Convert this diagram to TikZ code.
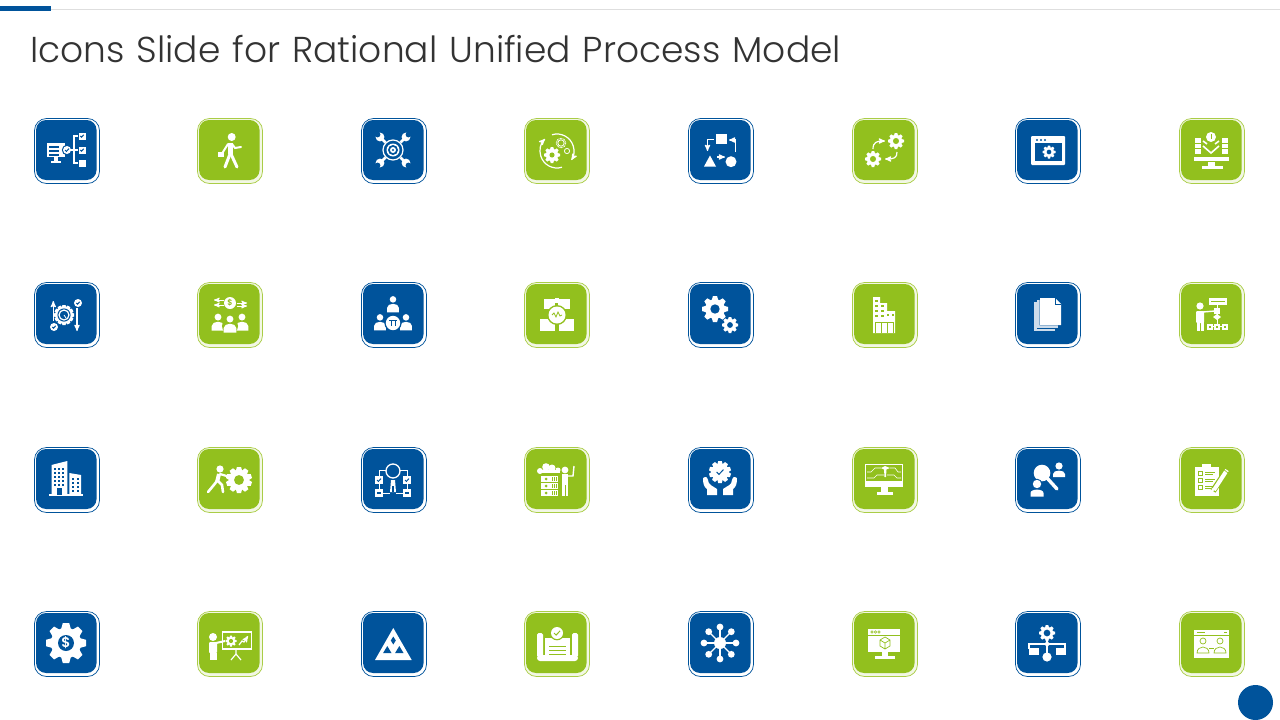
\documentclass[tikz,border=0pt]{standalone}
\usepackage{fontspec}
\setmainfont{Poppins}[UprightFont=* Light,BoldFont=* SemiBold,WordSpace=1.22]
\usepackage{tikz}
\usetikzlibrary{arrows}
\definecolor{rupblue}{RGB}{0,83,155}
\definecolor{rupgreen}{RGB}{146,192,30}
\definecolor{rupedge}{RGB}{170,205,70}
\definecolor{rupink}{RGB}{51,51,51}
\definecolor{ruprule}{RGB}{222,222,222}
\definecolor{rupleaf}{RGB}{205,220,235}
\colorlet{tilecol}{rupblue}
\tikzset{
  tile/.style={rounded corners=12pt,minimum size=65pt,inner sep=0pt,line width=.7pt},
  core/.style={rounded corners=10pt,minimum width=60.5pt,minimum height=60pt,inner sep=0pt,fill=#1},
  iconfill/.style={fill=white,draw=none},
  iconline/.style={draw=white,line width=1.2pt},
  iconthick/.style={draw=white,line width=3pt,line cap=round},
  iconknock/.style={draw=tilecol,line width=.8pt}
}
\newcommand{\blueicon}[2]{\begin{scope}[shift={(#1)}]\colorlet{tilecol}{rupblue}#2\end{scope}}
\newcommand{\greenicon}[2]{\begin{scope}[shift={(#1)}]\colorlet{tilecol}{rupgreen}#2\end{scope}}
\newcommand{\rupgear}[4]{\begin{scope}[shift={(#1)},scale=#2]
        \foreach \ang in {1,...,#4} {\fill[white,rotate=\ang*360/#4] (-.27,.6) -- (-.16,1) -- (.16,1) -- (.27,.6) -- cycle;}
        \fill[white] (0,0) circle (.76);
        \fill[tilecol] (0,0) circle (#3);
\end{scope}}
\newcommand{\ruppers}[2]{\begin{scope}[shift={(#1)},scale=#2]
        \fill[white] (0,-1.05) circle (.52);
        \fill[white] (-.95,1) -- (-.95,.3) .. controls (-.95,-.55) and (.95,-.55) .. (.95,.3) -- (.95,1) -- cycle;
\end{scope}}
\newcommand{\ruptick}[2]{\begin{scope}[shift={(#1)},scale=#2]
        \draw[tilecol,line width=1pt] (-1,0) -- (-.3,.7) -- (1,-.7);
\end{scope}}
\newcommand{\rupbox}[2]{\fill[white] ([shift={(-#2,-#2)}]#1) rectangle ([shift={(#2,#2)}]#1);}
\begin{document}
\begin{tikzpicture}[x=1pt,y=-1pt,>=stealth']
        \useasboundingbox (0,0) rectangle (1280,720);
        \fill[white] (0,0) rectangle (1280,720);
        \coordinate (ruleL) at (0,9.5);
        \coordinate (ruleR) at (1280,9.5);
        \draw[ruprule,line width=1pt] (ruleL) -- (ruleR);
        \fill[rupblue] (0,6) rectangle (51,11);
        \node[anchor=west,inner sep=0pt,text=rupink,font=\fontsize{36}{40}\selectfont] (title) at (30,49) {Icons Slide for Rational Unified Process Model};
        \node[circle,fill=rupblue,minimum size=35pt,inner sep=0pt] (pagedot) at (1255.5,702.5) {};

        \foreach \y/\r in {151/1,315/2,480/3,644/4} {
          \foreach \x/\c/\col/\edge/\gap in {67/1/rupblue/rupblue/white,230/2/rupgreen/rupedge/rupgreen!12,394/3/rupblue/rupblue/white,557/4/rupgreen/rupedge/rupgreen!12,721/5/rupblue/rupblue/white,885/6/rupgreen/rupedge/rupgreen!12,1048/7/rupblue/rupblue/white,1212/8/rupgreen/rupedge/rupgreen!12} {
            \node[tile,draw=\edge,fill=\gap] (t\r\c) at (\x,\y) {};
            \node[core=\col] (c\r\c) at (\x-.7,\y-1) {};
          }
        }

        \blueicon{t11}{
          \fill[iconfill] (-20,-8) rectangle (-2,6);
          \foreach \v in {-5,-1,3} {\fill[tilecol] (-18,\v) rectangle (-8,\v+1.5);}
          \fill[iconfill] (-13,6) rectangle (-9,10);
          \fill[iconfill] (-16,10) rectangle (-6,11.5);
          \fill[tilecol] (0,-1) circle (5.2);
          \fill[iconfill] (0,-1) circle (4);
          \ruptick{0,-1}{2}
          \draw[iconline] (11,-15) -- (7,-15) -- (7,12) -- (11,12);
          \draw[iconline] (3,-1) -- (11,-1);
          \rupbox{15,-15}{3.5} \rupbox{15,-1}{3.5} \rupbox{15,12}{3.5}
          \ruptick{15,-15}{1.7} \ruptick{15,-1}{1.7}
        }
        \greenicon{t12}{
          \fill[iconfill] (1.7,-14) circle (4);
          \draw[iconthick,line width=5pt,line cap=butt] (0,-8) -- (0,3);
          \draw[iconthick] (0,3) -- (-5,16);
          \draw[iconthick] (1,3) -- (7,16);
          \draw[iconline,line width=2pt,line cap=round] (2,-7) -- (5,-3) -- (11,-4);
          \draw[iconline,line width=2pt,line cap=round] (-2,-7) -- (-7,1);
          \fill[iconfill] (-12,1) rectangle (-6,6);
        }
        \blueicon{t13}{
          \draw[iconline] (-1,-1) circle (10);
          \fill[iconfill] (-1,-1) circle (6.5);
          \fill[tilecol] (-1,-1) circle (5);
          \fill[iconfill] (-1,-1) circle (3);
          \fill[tilecol] (-1,-1) circle (1.1);
          \foreach \sx/\sy in {-1/-1,1/-1,-1/1,1/1} {
            \draw[iconthick,line width=2.6pt,line cap=butt] (-1+\sx*7.5,-1+\sy*7.5) -- (-1+\sx*11,-1+\sy*11);
            \fill[iconfill] (-1+\sx*13,-1+\sy*13) circle (4.4);
            \fill[tilecol] (-1+\sx*15.4,-1+\sy*15.4) circle (2.8);
          }
        }
        \greenicon{t14}{
          \draw[iconline,->] (73:17) arc (73:225:17);
          \draw[iconline,->] (253:17) arc (253:392:17);
          \rupgear{-5,4}{8}{.32}{8}
          \draw[iconline,line width=.8pt] (4,-8) circle (3.2);
          \draw[iconline,line width=.8pt,dashed,dash pattern=on 1pt off .6pt] (4,-8) circle (4.8);
          \draw[iconline,line width=.8pt] (10,0) circle (2.6);
        }
        \blueicon{t15}{
          \fill[iconfill] (-5,-17.5) rectangle (6,-7);
          \fill[iconfill] (-17,15.5) -- (-11,4.5) -- (-5,15.5) -- cycle;
          \fill[iconfill] (10,10.7) circle (5.5);
          \draw[iconline,->] (-7,-11.5) -- (-13.5,-11.5) -- (-13.5,0);
          \draw[iconline,->] (14.7,1) -- (14.7,-11) -- (8,-11);
          \draw[iconline,->] (-4,6) -- (4,6);
        }
        \greenicon{t16}{
          \rupgear{11,-10}{8}{.38}{8}
          \rupgear{-12,8}{8}{.38}{8}
          \draw[iconline,->] (-12,-2) .. controls (-12,-9) and (-8,-10) .. (0,-10);
          \draw[iconline,->] (12,1) .. controls (12,7) and (9,8) .. (0,8);
        }
        \blueicon{t17}{
          \fill[iconfill,rounded corners=1pt] (-17,-15) rectangle (17,14);
          \fill[tilecol] (-13,-8) rectangle (14,10);
          \foreach \v in {-11,-7,-3} {\fill[tilecol] (\v,-11) circle (1.2);}
          \rupgear{1,1}{6.5}{.36}{8}
        }
        \greenicon{t18}{
          \fill[iconfill] (-17,-13) rectangle (-11,3);
          \fill[iconfill] (10,-13) rectangle (16,3);
          \foreach \v in {-8,-3} {\draw[tilecol,line width=.7pt] (-17,\v) -- (-11,\v) (10,\v) -- (16,\v);}
          \fill[iconfill] (-1,-14) circle (5);
          \draw[tilecol,line width=.8pt] (-1,-17) -- (-1,-12);
          \draw[iconline,line width=1.6pt] (-9,-5) -- (-1,2) -- (7,-5);
          \draw[iconline,line width=1.6pt] (-9,-10) -- (-5,-7);
          \draw[iconline,line width=1.6pt] (7,-10) -- (3,-7);
          \fill[iconfill] (-18,6) rectangle (17,9.5);
          \fill[iconfill] (-4,10.5) rectangle (3,15);
          \fill[iconfill] (-10,15) rectangle (11,17.5);
        }

        \blueicon{t21}{
          \rupgear{-3,0}{10}{.66}{12}
          \draw[iconline] (-3,0) circle (5);
          \draw[iconline,line width=.8pt] (-3,0) -- (-1,3);
          \draw[iconline,->] (-13.7,6) -- (-13.7,-14);
          \draw[iconline,->] (10,-7) -- (10,16);
          \fill[iconfill] (11,-12) circle (4);
          \fill[iconfill] (-13,12) circle (4);
          \ruptick{11,-12}{1.7} \ruptick{-13,12}{1.7}
        }
        \greenicon{t22}{
          \fill[iconfill] (0,-12) circle (6);
          \node[text=tilecol,inner sep=0pt,font=\bfseries\fontsize{8}{8}\selectfont] (dollarA) at (0,-12) {\$};
          \draw[iconline,line width=1pt,->] (-6.5,-15) -- (-16,-15);
          \draw[iconline,line width=1pt,<-] (-16,-10) -- (-6.5,-10);
          \draw[iconline,line width=1pt,->] (6.5,-12) -- (17,-12);
          \draw[iconline,line width=1pt,->] (6.5,-9) -- (17,-9);
          \ruppers{-12,9}{6.6}
          \ruppers{12,9}{6.6}
          \fill[tilecol] (0,11) circle (8);
          \ruppers{0,11}{6.6}
        }
        \blueicon{t23}{
          \ruppers{-1,-9}{6.3}
          \ruppers{-14,9}{6.3}
          \ruppers{12,9}{6.3}
          \fill[tilecol] (-1,8) circle (8.6);
          \fill[iconfill] (-1,8) circle (7.2);
          \draw[tilecol,line width=1pt] (-5,5) -- (3,5) (-3,5) -- (-3,11) (1,5) -- (1,11);
        }
        \greenicon{t24}{
          \fill[iconfill] (-13,-16) rectangle (-2,-6);
          \fill[iconfill] (1,-16) rectangle (13,-6);
          \fill[iconfill] (-17,4) rectangle (-2,16);
          \fill[iconfill] (2,4) rectangle (17,16);
          \fill[iconfill] (-2,-17) rectangle (2,-12);
          \fill[tilecol] (0,0) circle (10);
          \fill[iconfill] (0,0) circle (8.5);
          \draw[tilecol,line width=.8pt] (-5,0) -- (-3,-2) -- (-1,2) -- (1,-3) -- (3,1) -- (5,0);
        }
        \blueicon{t25}{
          \rupgear{-6,-6}{13}{.36}{8}
          \rupgear{9,10}{8}{.36}{8}
        }
        \greenicon{t26}{
          \fill[iconfill] (-12,-18) -- (-5,-18) -- (-5,-12) -- (2,-12) -- (2,-4) -- (10,-4) -- (10,18) -- (-12,18) -- cycle;
          \foreach \v in {-15,-10,-5,0} {\fill[tilecol] (-10,\v) rectangle (-7.5,\v+2.4);}
          \foreach \v in {-10,-5,0} {\fill[tilecol] (-4,\v) rectangle (-1.5,\v+2.4);}
          \foreach \u in {2,6.5} {\fill[tilecol] (\u,-1) rectangle (\u+2.4,1.4);}
          \draw[tilecol,line width=.9pt] (-10,18) -- (-10,7) -- (8,7) -- (8,18) (-4,7) -- (-4,18) (2,7) -- (2,18);
        }
        \blueicon{t27}{
          \fill[rupleaf] (-14,-13) rectangle (7,15.5);
          \draw[tilecol,line width=.7pt] (-11,-15) rectangle (10,13);
          \fill[rupleaf] (-11,-15) rectangle (10,13);
          \draw[tilecol,line width=.7pt] (-8,-17) -- (7,-17) -- (13,-11) -- (13,10) -- (-8,10) -- cycle;
          \fill[iconfill] (-8,-17) -- (7,-17) -- (13,-11) -- (13,10) -- (-8,10) -- cycle;
          \draw[tilecol,line width=.7pt] (7,-17) -- (7,-11) -- (13,-11);
        }
        \greenicon{t28}{
          \fill[iconfill] (-12,-9) circle (3.6);
          \fill[iconfill,rounded corners=1pt] (-16,-4) rectangle (-8,8);
          \fill[iconfill] (-15.5,7) rectangle (-12.5,16);
          \fill[iconfill] (-11.5,7) rectangle (-8.5,16);
          \draw[iconline,line width=1.4pt] (-9,-3) -- (3,-4);
          \fill[iconfill] (-3,-17) rectangle (15,-10);
          \draw[tilecol,line width=.5pt] (-1,-13.5) -- (13,-13.5);
          \draw[iconline,line width=.8pt] (5,-10) -- (5,11) (-2,9) -- (-2,11) -- (13,11) -- (13,9);
          \rupbox{5,-4}{3}
          \fill[iconfill] (5,-1) -- (9,2) -- (5,5) -- (1,2) -- cycle;
          \rupbox{-2,12}{3} \rupbox{5,12}{3} \rupbox{13,12}{3}
          \foreach \u in {-2,5,13} {\fill[tilecol] (\u-1,11) rectangle (\u+1,13);}
        }

        \blueicon{t31}{
          \fill[iconfill] (-15.5,-15) -- (0.3,-19) -- (0.3,15) -- (-15.5,15) -- cycle;
          \fill[iconfill] (2.3,-7) -- (14,-5) -- (14,15) -- (2.3,15) -- cycle;
          \fill[iconfill] (-18,14.3) rectangle (15.7,16);
          \foreach \u in {-13,-9,-5} {\foreach \v in {-12,-8,-4,0,4} {\fill[tilecol] (\u,\v) rectangle (\u+2.4,\v+2.4);}}
          \foreach \u in {5,9.5} {\foreach \v in {-2,2,6,10} {\fill[tilecol] (\u,\v) rectangle (\u+2.4,\v+2.2);}}
          \fill[tilecol] (-10,8) rectangle (-5,15);
        }
        \greenicon{t32}{
          \rupgear{9,0}{13}{.38}{10}
          \fill[iconfill] (-10,-11) circle (3.6);
          \draw[iconthick,line width=4pt,line cap=butt] (-11,-6) -- (-13,2);
          \draw[iconthick,line width=2.6pt] (-13,1) -- (-17,6) -- (-22,12);
          \draw[iconthick,line width=2.6pt] (-12,1) -- (-8,5) -- (-7,12);
          \draw[iconthick,line width=2.2pt] (-10,-6) -- (0,-3);
        }
        \blueicon{t33}{
          \draw[iconline,line width=1.3pt] (-1,-9) circle (7);
          \fill[iconfill] (-3,0) -- (1,0) -- (2,12) -- (-4,12) -- cycle;
          \fill[tilecol] (-2,6) rectangle (0,12);
          \draw[iconline,line width=.7pt] (-8,-10) -- (-15,-10) -- (-15,-4);
          \draw[iconline,line width=.7pt] (6,-10) -- (13,-10) -- (13,-4);
          \draw[iconline,line width=.7pt] (-15,4) -- (-15,9) (13,4) -- (13,9) (-11,13) -- (-4,13) (2,13) -- (9,13);
          \rupbox{-15,0}{4} \rupbox{13,0}{4} \rupbox{-15,13}{4} \rupbox{13,13}{4}
          \ruptick{-15,0}{2} \ruptick{13,0}{2}
          \fill[tilecol] (-17,12) rectangle (-13,14);
          \fill[tilecol] (11,12) rectangle (15,14);
        }
        \greenicon{t34}{
          \fill[iconfill] (-17,-9) circle (3);
          \fill[iconfill] (-11,-13) circle (3.8);
          \fill[iconfill] (-5,-12) circle (3.5);
          \fill[iconfill] (1,-10) circle (2.5);
          \fill[iconfill] (-19,-10) rectangle (3,-7.5);
          \foreach \v in {-4,3,10} {
            \fill[iconfill] (-16,\v) rectangle (1,\v+6);
            \fill[tilecol] (-11,\v+3) circle (1.5);
            \draw[tilecol,line width=.7pt] (-5,\v+1) -- (-5,\v+5) (-3,\v+1) -- (-3,\v+5) (-1,\v+1) -- (-1,\v+5);
          }
          \fill[iconfill] (8,-10) circle (3.4);
          \fill[iconfill] (5,-6) rectangle (11,5);
          \fill[iconfill] (5,5) rectangle (7.5,16);
          \fill[iconfill] (8.5,5) rectangle (11,16);
          \draw[iconline,line width=1.4pt] (10,-4) -- (16,-4) -- (17,-14);
        }
        \blueicon{t35}{
          \rupgear{-1,-8}{11}{.01}{10}
          \ruptick{-1,-8}{3.4}
          \fill[iconfill] (-18,-2) .. controls (-15,-4) and (-14,-3) .. (-13,0) .. controls (-13,5) and (-8,6) .. (-4,9) -- (-4,15) -- (-14,15) -- (-14,9) .. controls (-17,7) and (-18,4) .. cycle;
          \fill[iconfill] (16,-2) .. controls (13,-4) and (12,-3) .. (11,0) .. controls (11,5) and (6,6) .. (2,9) -- (2,15) -- (12,15) -- (12,9) .. controls (15,7) and (16,4) .. cycle;
        }
        \greenicon{t36}{
          \draw[iconline,line width=.8pt] (-20,-15.5) rectangle (17.5,5);
          \fill[iconfill] (-20,1) rectangle (17.5,7);
          \fill[iconfill] (-4,-12) -- (0,-14) -- (5,-12) -- (0,-10) -- cycle;
          \fill[iconfill] (-1,-11) -- (1.5,-11) -- (1,-3) -- (-.5,-3) -- cycle;
          \draw[iconline,line width=.6pt] (-4,-12) -- (-10,-12) -- (-14,-8) -- (-18,-8) (5,-12) -- (10,-12) -- (13,-8) -- (16,-8) (-1,-5) -- (-8,-5) -- (-11,-2) -- (-18,-2) (2,-5) -- (9,-5) -- (12,-2) -- (16,-2);
          \fill[iconfill] (-4,7) rectangle (3,12);
          \fill[iconfill] (-8,12) rectangle (8,14.5);
        }
        \blueicon{t37}{
          \fill[iconfill] (-6,-7) circle (8.3);
          \draw[iconthick,line width=3.4pt] (-1,-2) -- (9,9);
          \fill[tilecol] (-11,4) circle (5.3);
          \fill[iconfill] (-11,4) circle (4.2);
          \fill[tilecol] (-19,16) .. controls (-19,7) and (-3,7) .. (-3,16) -- cycle;
          \fill[iconfill] (-17.5,16.5) -- (-17.5,13) .. controls (-17.5,8.5) and (-4.5,8.5) .. (-4.5,13) -- (-4.5,16.5) -- cycle;
          \fill[iconfill] (11,-14) circle (3.6);
          \fill[iconfill] (5,-3) -- (5,-6) .. controls (5,-10.5) and (17,-10.5) .. (17,-6) -- (17,-3) -- cycle;
        }
        \greenicon{t38}{
          \fill[iconfill] (-17,-13) rectangle (7,15.5);
          \fill[iconfill] (-10,-16) rectangle (-1,-11);
          \foreach \v in {-9,-2,5} {
            \draw[tilecol,line width=.7pt] (-14,\v) rectangle (-10,\v+4);
            \draw[tilecol,line width=.7pt] (-7,\v+1) -- (3,\v+1) (-7,\v+3) -- (1,\v+3);
          }
          \draw[tilecol,line width=6pt] (15,-10) -- (1,11);
          \draw[iconline,line width=4pt] (15,-10) -- (2,10);
          \fill[iconfill] (-1,12) -- (0,8) -- (3,10) -- cycle;
          \draw[tilecol,line width=.7pt] (11,-11) -- (16,-7);
        }

        \blueicon{t41}{
          \rupgear{-1,-1}{20}{.4}{8}
          \node[text=white,inner sep=0pt,font=\bfseries\fontsize{14}{14}\selectfont] (dollarB) at (-1,-1) {\$};
        }
        \greenicon{t42}{
          \fill[iconfill] (-17,-7) circle (4);
          \fill[iconfill,rounded corners=1pt] (-21,-2) rectangle (-13,9);
          \fill[iconfill] (-20.5,9) rectangle (-13.5,16);
          \draw[iconline,line width=2pt] (-14,-1) -- (-5,-3);
          \draw[iconline,line width=1.4pt] (-7.5,-12) rectangle (21.5,5);
          \rupgear{1,-3}{5.5}{.38}{8}
          \draw[iconline,->] (9,1) -- (12,-3) -- (14,-2) -- (18,-8);
          \draw[iconline] (6,5) -- (6,10) (1,16) -- (6,10) -- (11,16);
        }
        \blueicon{t43}{
          \fill[iconfill] (-.7,-16) -- (17.7,16) -- (-19,16) -- cycle;
          \fill[tilecol] (-.7,-7.5) -- (1.8,-3.5) -- (-.7,.5) -- (-3.2,-3.5) -- cycle;
          \fill[tilecol] (-6.7,2) -- (-2.5,9) -- (-10.9,9) -- cycle;
          \fill[tilecol] (5.3,2) -- (9.5,9) -- (1.1,9) -- cycle;
        }
        \greenicon{t44}{
          \fill[iconfill,rounded corners=1.5pt] (-20,-11) rectangle (-14,13);
          \fill[iconfill,rounded corners=1.5pt] (15,-11) rectangle (21,13);
          \fill[iconfill] (-12,-6) rectangle (13,13);
          \fill[iconfill,rounded corners=3pt] (-20,11) rectangle (21,17);
          \fill[tilecol] (0,-11) circle (7.3);
          \fill[iconfill] (0,-11) circle (6);
          \ruptick{0,-11}{3}
          \foreach \v in {2,6,10} {\draw[tilecol,line width=.9pt] (-8,\v) -- (9,\v);}
        }
        \blueicon{t45}{
          \foreach \ang in {0,45,...,315} {
            \draw[iconline] (-1,-1) -- ++(\ang:16);
            \fill[iconfill] (-1,-1) ++(\ang:16) circle (3.4);
          }
          \fill[iconfill] (-1,-1) circle (6);
        }
        \greenicon{t46}{
          \fill[iconfill] (-16.7,-15) rectangle (15,8);
          \draw[tilecol,line width=.7pt] (-16.7,-9) -- (15,-9);
          \foreach \u in {-13,-9.5,-6} {\draw[tilecol,line width=.5pt] (\u,-12) circle (1.2);}
          \draw[tilecol,line width=.7pt] (-5,-4) -- (0,-7) -- (5,-4) -- (5,2) -- (0,5) -- (-5,2) -- cycle (-5,-4) -- (0,-1) -- (5,-4) (0,-1) -- (0,5);
          \fill[iconfill] (-3,8) rectangle (3,12);
          \fill[iconfill] (-10,12) rectangle (10,15);
        }
        \blueicon{t47}{
          \rupgear{-1,-11}{8}{.42}{8}
          \draw[iconline] (-1,-3) -- (-1,10) (-19,5) -- (-19,0) -- (17,0) -- (17,5);
          \fill[iconfill] (-1,-3) -- (2,0) -- (-1,3) -- (-4,0) -- cycle;
          \fill[iconfill] (-19,4) rectangle (-8.7,11);
          \fill[iconfill] (8,4) rectangle (18,11);
          \fill[iconfill] (-1,13) circle (4.6);
        }
        \greenicon{t48}{
          \fill[iconfill] (-18,-14) rectangle (17,14);
          \draw[tilecol,line width=.7pt] (-18,-9) -- (17,-9);
          \draw[tilecol,line width=.7pt] (-15,-11.5) -- (-7,-11.5) (12,-11.5) -- (15,-11.5);
          \draw[tilecol,line width=.7pt] (-9,-3) circle (3);
          \draw[tilecol,line width=.7pt] (8,-3) circle (3);
          \draw[tilecol,line width=.7pt] (-15,9) .. controls (-15,1) and (-3,1) .. (-3,9) -- cycle;
          \draw[tilecol,line width=.7pt] (2,9) .. controls (2,1) and (14,1) .. (14,9) -- cycle;
          \draw[tilecol,line width=.7pt] (-3,4) -- (2,4);
        }
\end{tikzpicture}
\end{document}
